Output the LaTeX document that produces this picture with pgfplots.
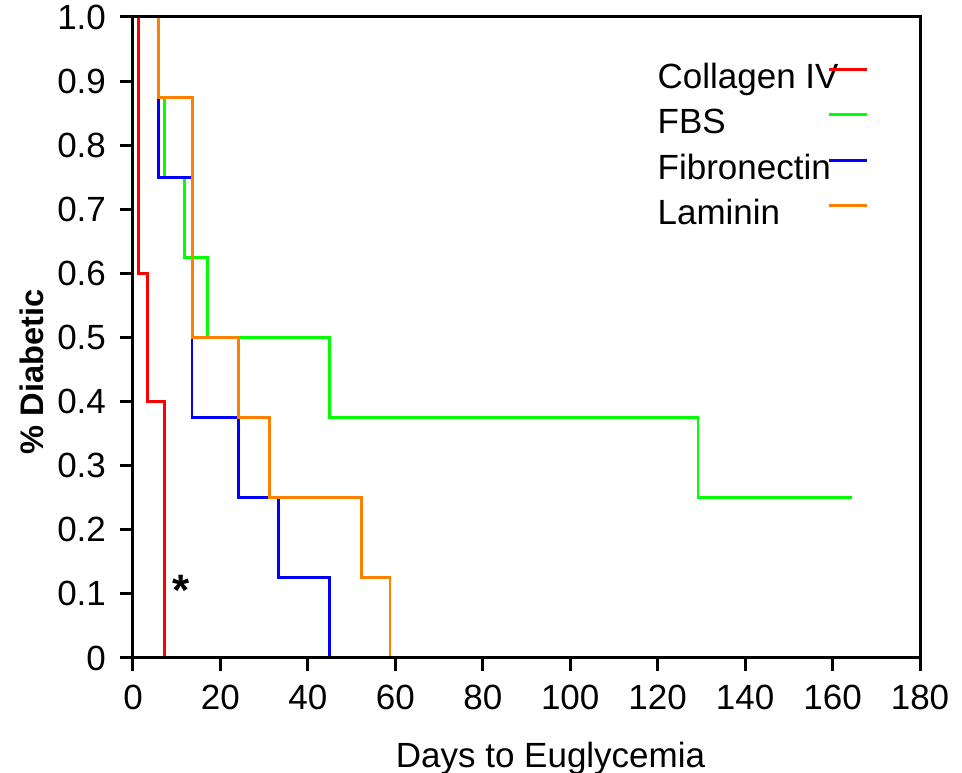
\documentclass[border=0pt]{standalone}
\usepackage{fontspec}
\setmainfont{Liberation Sans}
\usepackage{pgfplots}
\pgfplotsset{compat=1.18}

\definecolor{kmred}{RGB}{255,0,0}
\definecolor{kmgreen}{RGB}{0,255,0}
\definecolor{kmblue}{RGB}{0,0,255}
\definecolor{kmorange}{RGB}{255,127,0}

\newcommand{\lfont}{\fontsize{17.5}{21}\selectfont}

\begin{document}
\begin{tikzpicture}
\begin{axis}[
name=ax,
width=393.5pt,
height=320.5pt,
scale only axis,
axis on top,
axis line style={line width=1.5pt},
every tick/.style={line width=1.5pt, black},
major tick length=6.5pt,
tick align=outside,
tick pos=left,
xmin=0, xmax=180,
ymin=0, ymax=1,
xtick={0,20,40,60,80,100,120,140,160,180},
xticklabels={0,20,40,60,80,100,120,140,160,180},
ytick={0,0.1,0.2,0.3,0.4,0.5,0.6,0.7,0.8,0.9,1},
yticklabels={0,0.1,0.2,0.3,0.4,0.5,0.6,0.7,0.8,0.9,1.0},
tick label style={font=\lfont},
xticklabel style={yshift=-3.5pt},
yticklabel style={xshift=-3.5pt},
xlabel={Days to Euglycemia},
ylabel={\textbf{\% Diabetic}},
xlabel style={font=\lfont, xshift=12pt, yshift=-9.5pt},
ylabel style={font=\fontsize{16.3}{19}\selectfont, at={(ticklabel cs:0.446)}},
legend cell align={left},
legend plot pos=right,
legend image code/.code={\draw[#1] (0pt,5pt) -- (19pt,5pt);},
legend style={
  draw=none, fill=none,
  at={(rel axis cs:0.935,0.930)},
  anchor=north east,
  inner sep=0pt,
  column sep=0pt,
  row sep=5.75pt,
  font=\lfont,
  nodes={inner sep=0pt, text height=13pt, text depth=4pt}
},
]

\addplot [line width=1.4pt, kmred, const plot] coordinates {
(0,1) (1.2,0.6) (3.3,0.4) (7.2,0) (7.2,0)
};
\addlegendentry{\makebox[85pt][l]{Collagen IV}}

\addplot [line width=1.4pt, kmgreen, const plot] coordinates {
(0,1) (5.8,0.875) (7.2,0.75) (11.7,0.625) (17,0.5) (45,0.375) (129.2,0.25) (164.5,0.25)
};
\addlegendentry{\makebox[85pt][l]{FBS}}

\addplot [line width=1.4pt, kmblue, const plot] coordinates {
(0,1) (5.8,0.75) (13.5,0.375) (24.1,0.25) (33.2,0.125) (45,0) (45,0)
};
\addlegendentry{\makebox[85pt][l]{Fibronectin}}

\addplot [line width=1.4pt, kmorange, const plot] coordinates {
(0,1) (5.8,0.875) (13.6,0.5) (24.1,0.375) (31.3,0.25) (52.2,0.125) (58.8,0) (58.8,0)
};
\addlegendentry{\makebox[85pt][l]{Laminin}}

\node [font=\fontsize{22}{24}\selectfont\bfseries] at (axis cs:10.9,0.105) {*};

\end{axis}
\pgfresetboundingbox
\useasboundingbox ([shift={(-66.5pt,-57.5pt)}]ax.south west) rectangle ([shift={(21pt,8.5pt)}]ax.north east);
\end{tikzpicture}
\end{document}
